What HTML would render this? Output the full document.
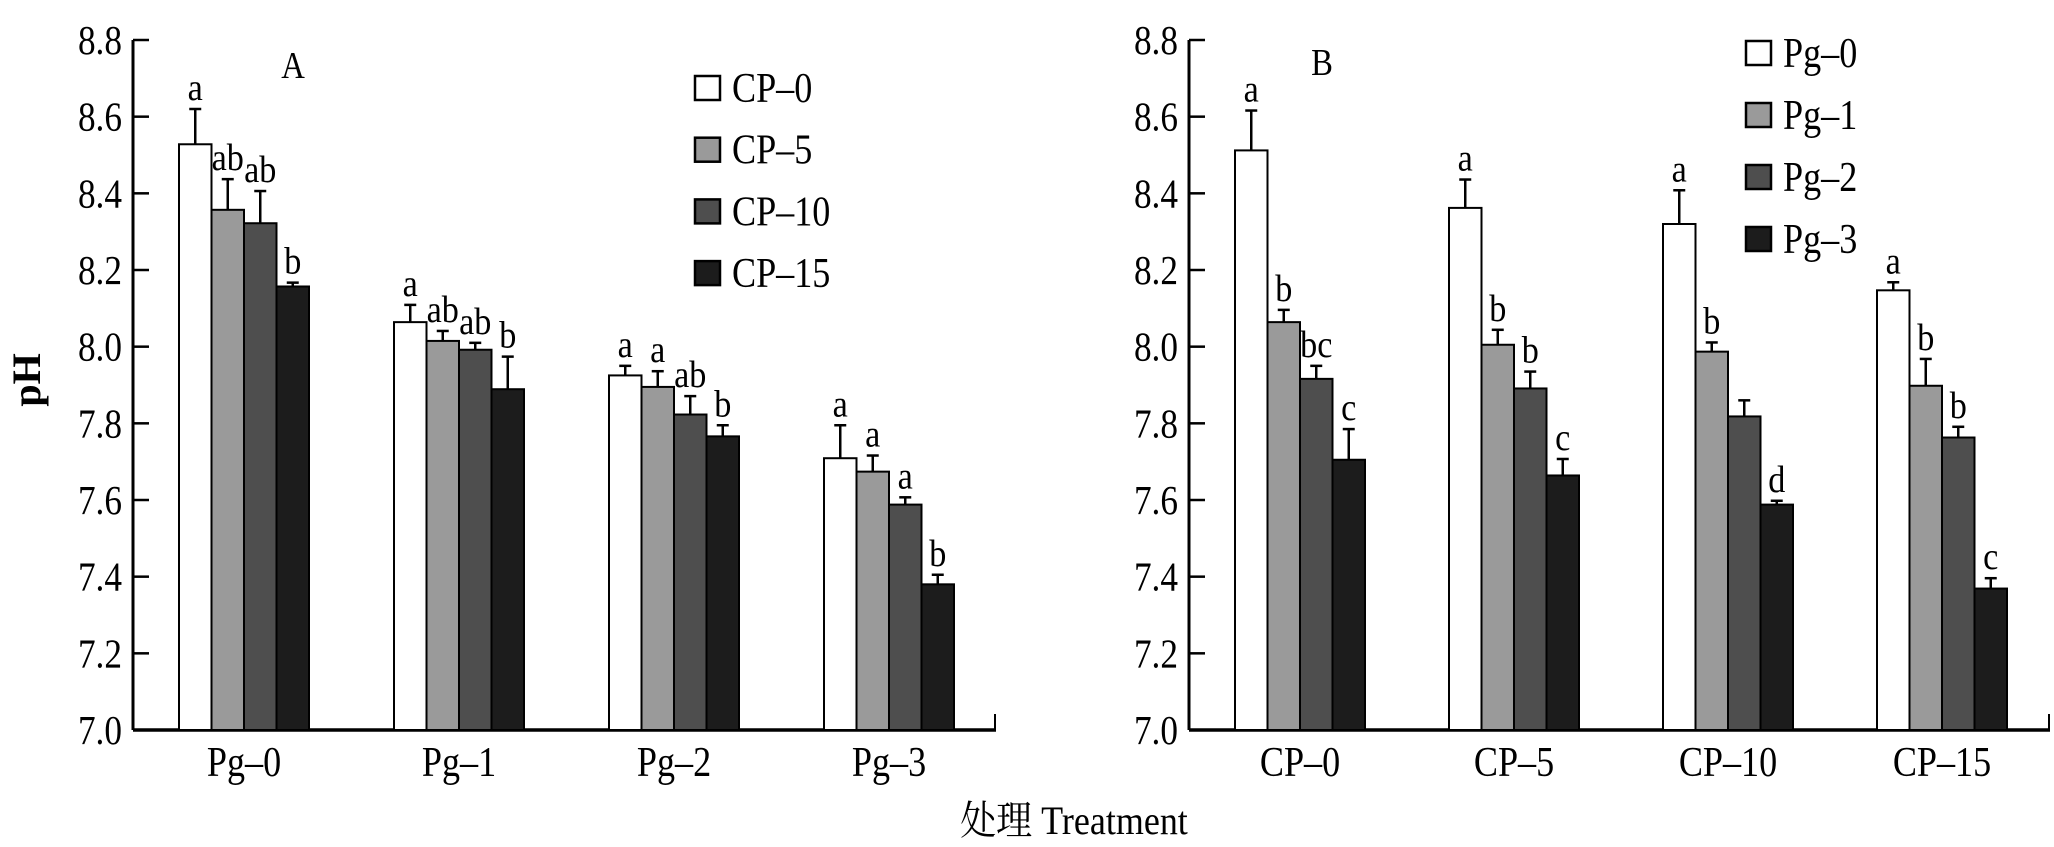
<!DOCTYPE html>
<html><head><meta charset="utf-8"><style>
html,body{margin:0;padding:0;background:#fff;}
svg{display:block;font-family:"Liberation Serif","Noto Serif CJK SC",serif;}
</style></head><body>
<svg id="chart" width="2054" height="847" viewBox="0 0 2054 847"></svg>
<script>
const seriesA = ["CP–0","CP–5","CP–10","CP–15"];
const catsA = ["Pg–0","Pg–1","Pg–2","Pg–3"];
const valsA = [[8.528,8.064,7.925,7.709],[8.357,8.015,7.895,7.674],[8.322,7.992,7.823,7.588],[8.157,7.889,7.766,7.380]];
const errA = [[8.62,8.109,7.95,7.795],[8.437,8.041,7.936,7.716],[8.406,8.01,7.871,7.607],[8.167,7.974,7.795,7.405]];
const letA = [["a","a","a","a"],["ab","ab","a","a"],["ab","ab","ab","a"],["b","b","b","b"]];
const seriesB = ["Pg–0","Pg–1","Pg–2","Pg–3"];
const catsB = ["CP–0","CP–5","CP–10","CP–15"];
const valsB = [[8.512,8.362,8.32,8.147],[8.064,8.005,7.987,7.898],[7.916,7.891,7.818,7.763],[7.705,7.664,7.588,7.369]];
const errB = [[8.616,8.436,8.408,8.168],[8.096,8.044,8.011,7.968],[7.95,7.935,7.86,7.791],[7.785,7.707,7.598,7.396]];
const letB = [["a","a","a","a"],["b","b","b","b"],["bc","b","","b"],["c","c","d","c"]];
const yTicks = ["7.0","7.2","7.4","7.6","7.8","8.0","8.2","8.4","8.6","8.8"];
const fills = ["#ffffff","#9a9a9a","#4e4e4e","#1c1c1c"];

const svg = document.getElementById('chart');
const NS = 'http://www.w3.org/2000/svg';
function mk(tag, attrs, parent){const e=document.createElementNS(NS,tag);for(const k in attrs)e.setAttribute(k,attrs[k]);(parent||svg).appendChild(e);return e;}
function txt(x,yy,size,anchor,parent,sx){
  return mk('text',{x:0,y:0,'font-size':size,'text-anchor':anchor,transform:`translate(${x},${yy}) scale(${sx||0.86},1)`},parent);
}
const Y0=730, Y1=40;
function y(v){return Y0-(v-7.0)/(1.8)*(Y0-Y1);}

function panel(p){
  const g=mk('g',{});
  
  
  const ax=mk('line',{x1:p.ax,y1:Y1,x2:p.ax,y2:Y0,stroke:'#000','stroke-width':3},g);
  
  
  const bx=mk('line',{x1:p.ax,y1:Y0,x2:p.axEnd,y2:Y0,stroke:'#000','stroke-width':3.5},g);
  
  
  mk('line',{x1:p.axEnd-1,y1:Y0,x2:p.axEnd-1,y2:Y0-16,stroke:'#000','stroke-width':2},g);
  yTicks.forEach(t=>{
    const yy=y(parseFloat(t));
    mk('line',{x1:p.ax,y1:yy,x2:p.ax+16,y2:yy,stroke:'#000','stroke-width':2.5},g);
    const tx=txt(p.ax-11,yy+14,41,'end',g);
    tx.textContent=t;
    
    
  });
  p.cats.forEach((c,ci)=>{
    const gx=p.start+ci*p.pitch;
    p.vals.forEach((sv,si)=>{
      const x=gx+si*p.bw, v=sv[ci], top=y(v);
      const r=mk('rect',{x:x,y:top,width:p.bw,height:Y0-top,fill:fills[si],stroke:'#000','stroke-width':2},g);
      
      
      const cx=x+p.bw/2, et=y(p.err[si][ci]);
      mk('line',{x1:cx,y1:top,x2:cx,y2:et,stroke:'#000','stroke-width':2.5},g);
      mk('line',{x1:cx-6,y1:et,x2:cx+6,y2:et,stroke:'#000','stroke-width':2.5},g);
      const lt=p.lets[si][ci];
      if(lt){const l=txt(cx,et-9,38,'middle',g,0.9);
        l.textContent=lt;
        
        }
    });
    const cl=txt(gx+2*p.bw,776,42,'middle',g);
    cl.textContent=c;
    
    
  });
  const pl=txt(p.lx,p.ly,38,'middle',g);
  pl.textContent=p.label;
  
  
  p.series.forEach((s,si)=>{
    const cy=p.legY+si*p.legDy;
    const sq=mk('rect',{x:p.legX,y:cy-12,width:25,height:24,fill:fills[si],stroke:'#000','stroke-width':2.5},g);
    
    
    const lt=txt(p.legX+37,cy+14,42,'start',g);
    lt.textContent=s;
    
    
  });
}
panel({name:'panel-a',ax:133,axEnd:996,start:179,pitch:215,bw:32.5,cats:catsA,vals:valsA,err:errA,lets:letA,series:seriesA,label:'A',lx:293,ly:78,legX:695,legY:88,legDy:61.7});
panel({name:'panel-b',ax:1189,axEnd:2050,start:1235,pitch:214,bw:32.5,cats:catsB,vals:valsB,err:errB,lets:letB,series:seriesB,label:'B',lx:1322,ly:75,legX:1746,legY:53,legDy:62});

const yt=mk('text',{x:0,y:0,'font-size':40,'font-weight':'bold','text-anchor':'middle',transform:'translate(40,380) rotate(-90)'});
yt.textContent='pH';


const xt=txt(1074,834,40,'middle',svg,0.9);
xt.textContent='处理 Treatment';


</script>
</body></html>
